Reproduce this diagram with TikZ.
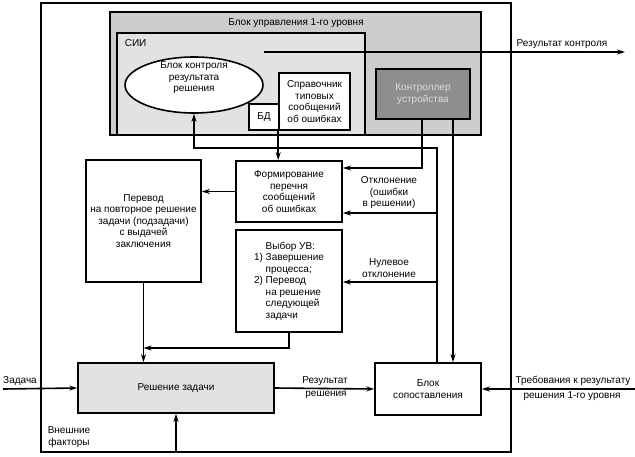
\documentclass[tikz,border=0pt]{standalone}
\usepackage{fontspec}
\setmainfont{Liberation Sans}
\usetikzlibrary{arrows.meta,shapes.geometric}
\definecolor{blockgray}{HTML}{CDCDCD}
\definecolor{siigray}{HTML}{E2E2E2}
\definecolor{ctrlgray}{HTML}{8E8E8E}
\definecolor{ctrltext}{HTML}{DCDCDC}
\begin{document}
\begin{tikzpicture}[x=1pt, y=-1pt, ultra thick, >={Stealth[length=8pt,width=5pt]},
  font=\fontsize{10}{11.5}\selectfont,
  box/.style={rectangle,draw,align=center,inner sep=2pt},
  txt/.style={align=center,inner sep=0pt}]
\useasboundingbox (0,0) rectangle (635,456);
% frames
\node [box, minimum width=470, minimum height=449] (frame) at (276,227.5) {};
\node [box, fill=blockgray, minimum width=371, minimum height=123] (lvl1) at (295.5,73.5) {};
\node [box, fill=siigray, minimum width=248, minimum height=102] (sii) at (241,84) {};
\node [txt] (lvl1t) at (296,23) {Блок управления 1-го уровня};
\node [txt, anchor=west] (siit) at (124,43) {СИИ};
% blocks
\node [ellipse, draw, fill=white, minimum width=138, minimum height=56,
  label={[txt, yshift=7pt]center:Блок контроля\\результата\\решения}] (bk) at (194,85) {};
\node [box, fill=white, minimum width=71, minimum height=57] (sprav) at (314.5,101.5) {Справочник\\типовых\\сообщений\\об ошибках};
\node [box, fill=white, minimum width=30, minimum height=26] (bd) at (264,117) {БД};
\node [box, fill=ctrlgray, text=ctrltext, minimum width=94, minimum height=50] (kontr) at (423,94) {Контроллер\\устройства};
\node [box, minimum width=106, minimum height=61] (form) at (289,191.5) {Формирование\\перечня\\сообщений\\об ошибках};
\node [box, minimum width=115, minimum height=122] (perevod) at (143.5,221) {Перевод\\на повторное решение\\задачи (подзадачи)\\с выдачей\\заключения};
\node [box, align=left, minimum width=106, minimum height=102] (vybor) at (289,281) {\phantom{1) }Выбор УВ:\\1) Завершение\\\phantom{1) }процесса;\\2) Перевод\\\phantom{1) }на решение\\\phantom{1) }следующей\\\phantom{1) }задачи};
\node [box, fill=siigray, minimum width=196, minimum height=50] (resh) at (176,388) {Решение задачи};
\node [box, minimum width=106, minimum height=52] (sopost) at (428,389) {Блок\\сопоставления};
% labels
\node [txt] (rkt) at (562,44) {Результат контроля};
\node [txt] (otkl) at (389,193) {Отклонение\\(ошибки\\в решении)};
\node [txt] (nul) at (389,268) {Нулевое\\отклонение};
\node [txt] (zt) at (20,381) {Задача};
\node [txt, anchor=west] (vf) at (47,437) {Внешние\\факторы};
\node [txt] (rr1) at (325,381) {Результат};
\node [txt] (rr2) at (326,395) {решения};
\node [txt] (tr1) at (573,381) {Требования к результату};
\node [txt] (tr2) at (572,396) {решения 1-го уровня};
% connectors
\coordinate (rc0) at (bk.east |- 0,52);
\coordinate (rc1) at (625,52);
\coordinate (k1) at ([xshift=-1pt]kontr.south);
\coordinate (k2) at ([xshift=30pt]kontr.south);
\coordinate (s1) at ([xshift=9pt]sopost.north);
\coordinate (j1) at (s1 |- 0,213);
\coordinate (j2) at (s1 |- 0,282);
\coordinate (zin) at (3,389);
\coordinate (ext) at (176,452);
\coordinate (req) at (635,389);
\draw [->] (rc0) -- (rc1);
\draw [->] (k1) |- (form.east |- 0,168);
\draw [->] (k2) -- (k2 |- sopost.north);
\draw [->] (s1) |- (bk.south |- 0,148) -- (bk.south);
\draw [->] (j1) -- (form.east |- j1);
\draw [->] (j2) -- (vybor.east |- j2);
\draw [->] (sprav.south west) -- (sprav.south west |- form.north);
\draw [->] (form.west) -- (form.west -| perevod.east);
\draw [->] (perevod.south) -- (perevod.south |- resh.north);
\draw [->] (vybor.south) |- (perevod.south |- 0,348);
\draw [->] (zin) -- (resh.west);
\draw [->] (ext) -- (resh.south);
\draw [->] (resh.east) -- (sopost.west);
\draw [->] (req) -- (sopost.east);
\end{tikzpicture}
\end{document}
